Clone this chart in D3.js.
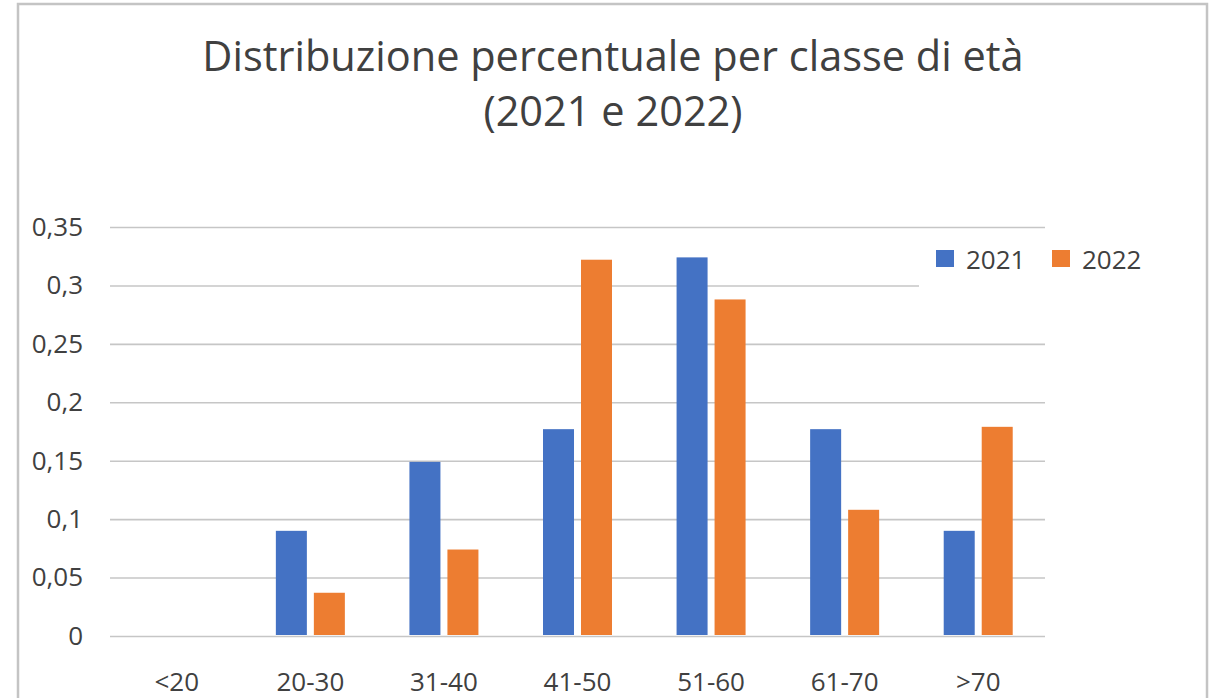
<!DOCTYPE html>
<html>
<head>
<meta charset="utf-8">
<script src="https://cdn.jsdelivr.net/npm/d3@7"></script>
<style>
  body { margin: 0; background: #fff; }
  text { font-family: "Open Sans", sans-serif; fill: #404040; }
</style>
</head>
<body>
<div id="chart"></div>
<script>
// age classes and share per year
const categories = ["<20", "20-30", "31-40", "41-50", "51-60", "61-70", ">70"];
const series = ["2021", "2022"];
const values2021 = [0, 0.09, 0.149, 0.177, 0.324, 0.177, 0.09];
const values2022 = [0, 0.037, 0.074, 0.322, 0.288, 0.108, 0.179];
const yTicks = [0, 0.05, 0.1, 0.15, 0.2, 0.25, 0.3, 0.35];
const colors = ["#4472C4", "#ED7D31"];

const width = 1215;
const height = 698;
const plot = { left: 110, right: 1045, top: 227, bottom: 636 };

const svg = d3.select("#chart")
    .append("svg")
    .attr("width", width)
    .attr("height", height);

// chart frame (bottom edge is off the picture)
svg.append("rect")
    .attr("x", 18)
    .attr("y", 4)
    .attr("width", 1189)
    .attr("height", 720)
    .attr("fill", "none")
    .attr("stroke", "#c4c4c4")
    .attr("stroke-width", 2.5);

// title
const title = svg.append("text")
    .attr("text-anchor", "middle")
    .attr("font-size", "41.5px");
title.append("tspan").attr("x", 613).attr("y", 71).text("Distribuzione percentuale per classe di età");
title.append("tspan").attr("x", 613).attr("y", 126).text("(2021 e 2022)");

const x0 = d3.scaleBand()
    .domain(categories)
    .range([plot.left, plot.right])
    .paddingInner(0.4834)
    .paddingOuter(0.2417);

const x1 = d3.scaleBand()
    .domain(series)
    .range([0, x0.bandwidth()])
    .paddingInner(0.184);

const y = d3.scaleLinear()
    .domain([0, 0.35])
    .range([plot.bottom, plot.top]);

const it = d3.formatLocale({ decimal: ",", thousands: ".", grouping: [3], currency: ["", "€"] });
const fmt = it.format(".2~f");

// y axis with gridlines
const yAxis = svg.append("g")
    .attr("transform", `translate(${plot.left},0)`)
    .call(d3.axisLeft(y).tickValues(yTicks).tickFormat(fmt)
        .tickSize(-(plot.right - plot.left)).tickPadding(27));
yAxis.select(".domain").remove();
yAxis.selectAll("line").attr("stroke", "#c6c6c6").attr("stroke-width", 1.6);
yAxis.selectAll("text").attr("font-size", "26px").attr("fill", "#404040");

// x axis labels
const xAxis = svg.append("g")
    .attr("transform", `translate(0,${plot.bottom})`)
    .call(d3.axisBottom(x0).tickSize(0).tickPadding(37));
xAxis.select(".domain").remove();
xAxis.selectAll("text").attr("font-size", "26px").attr("fill", "#404040");

// bars
const rows = categories.map((c, i) => ({ cat: c, vals: [values2021[i], values2022[i]] }));
svg.append("g")
    .selectAll("g")
    .data(rows)
    .join("g")
    .attr("transform", d => `translate(${x0(d.cat)},0)`)
    .selectAll("rect")
    .data(d => d.vals.map((v, j) => ({ key: series[j], v: v, j: j })))
    .join("rect")
    .attr("x", d => x1(d.key))
    .attr("y", d => y(d.v))
    .attr("width", x1.bandwidth())
    .attr("height", d => y(0) - y(d.v) - 1)
    .attr("fill", d => colors[d.j]);

// legend
const legend = svg.append("g");
legend.append("rect")
    .attr("x", 919)
    .attr("y", 236)
    .attr("width", 232)
    .attr("height", 51)
    .attr("fill", "#fff");
const items = legend.selectAll("g")
    .data(series)
    .join("g")
    .attr("transform", (d, i) => `translate(${936 + i * 116},250)`);
items.append("rect")
    .attr("width", 18)
    .attr("height", 17)
    .attr("fill", (d, i) => colors[i]);
items.append("text")
    .attr("x", 30)
    .attr("y", 19)
    .attr("font-size", "26px")
    .text(d => d);
</script>
</body>
</html>
